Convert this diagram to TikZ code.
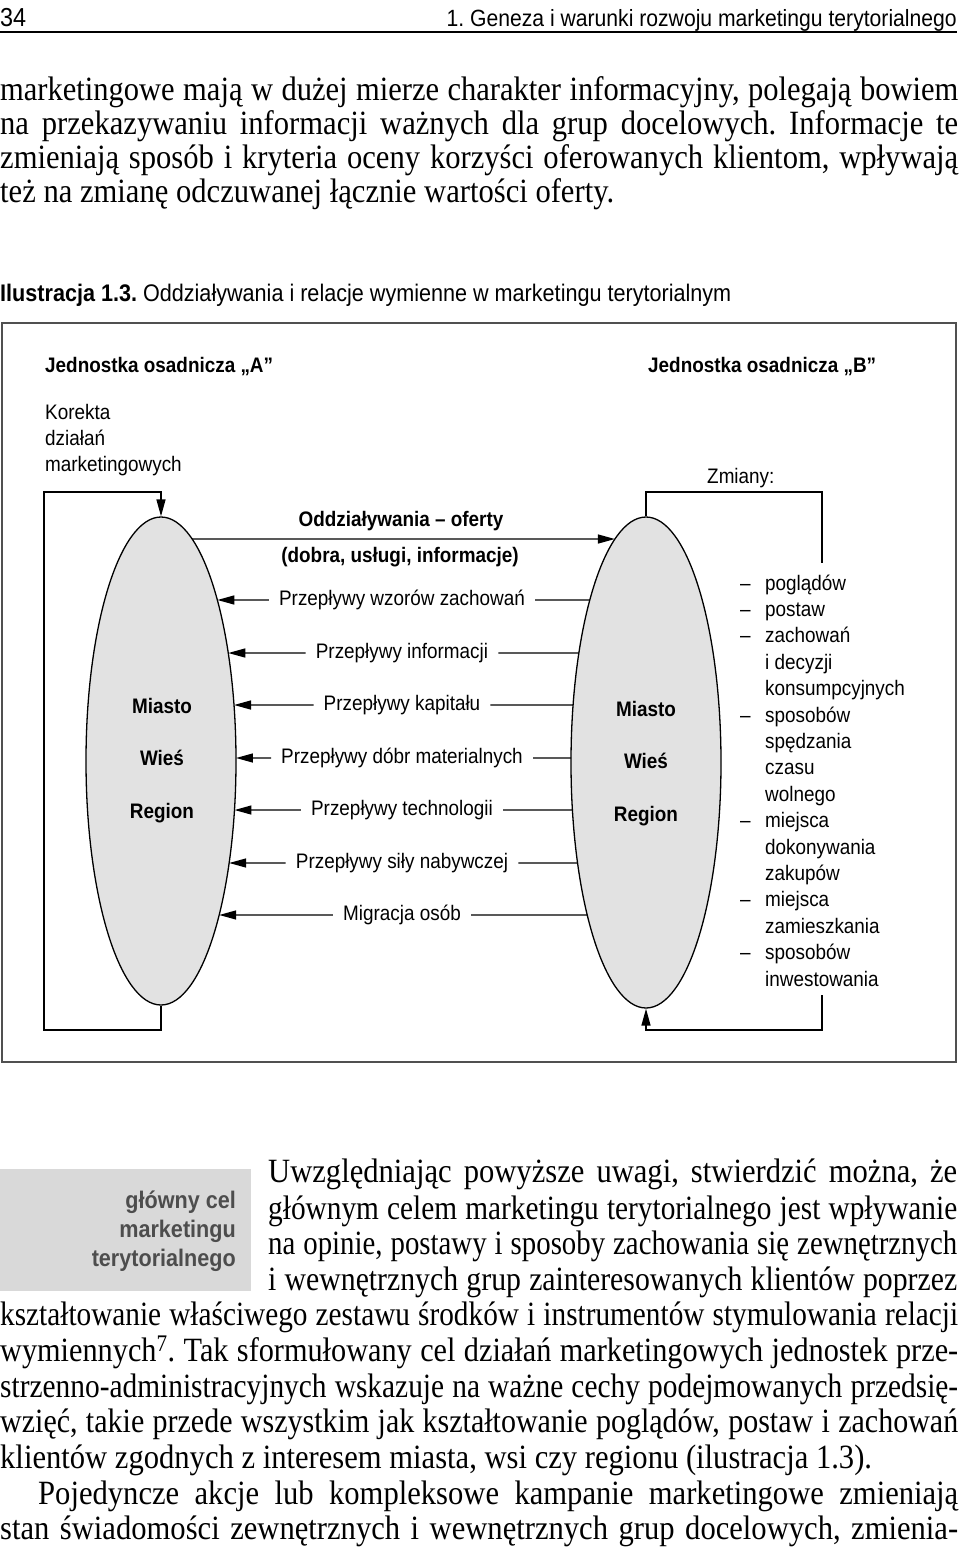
\documentclass[tikz,border=0pt]{standalone}
\usepackage{fontspec}
\setmainfont{Liberation Serif}
\newfontfamily\serifb[FakeStretch=0.9]{Liberation Serif}
\newfontfamily\sansd[FakeStretch=0.9]{Liberation Sans}
\usetikzlibrary{shapes.geometric,arrows.meta,intersections,calc}
\definecolor{ellgray}{HTML}{E2E2E2}
\definecolor{framegray}{HTML}{505050}
\definecolor{sidegray}{HTML}{D9D9D9}
\definecolor{sidetext}{HTML}{4D4D4D}
\frenchspacing
\newsavebox\jlbox
\newlength\jlw
\newcommand{\jl}[2]{\sbox\jlbox{\spaceskip=0.25em plus 0.1em minus 0.1em\relax #2}%
  \setlength\jlw{\wd\jlbox}%
  \ifdim\jlw>#1\relax
    \scalebox{\fpeval{#1/\jlw}}[1]{\usebox\jlbox}%
  \else
    \hbox to #1{\spaceskip=0.25em plus 4em minus 0.05em\relax #2}%
  \fi}
\newcommand{\dsh}{\makebox[25pt][l]{–}}
\newcommand{\nds}{\hspace*{25pt}}
\begin{document}
\begin{tikzpicture}[x=1pt,y=-1pt,
  dtext/.style={font=\sansd\fontsize{21}{26}\selectfont, inner sep=0pt},
  dbold/.style={font=\sansd\bfseries\fontsize{21}{26}\selectfont, inner sep=0pt},
  body/.style={font=\serifb\fontsize{34}{36}\selectfont\frenchspacing, inner sep=0pt, anchor=base west},
  ell/.style={ellipse, draw=black, line width=1.3pt, fill=ellgray, minimum width=150pt, inner sep=0pt},
  conn/.style={line width=1.4pt},
  arr/.style={conn, -{Triangle[length=17pt,width=9pt]}},
  flow/.style={dtext, text height=14pt, text depth=4pt, inner xsep=10pt, inner ysep=0pt}
]
\fill[white] (0,0) rectangle (960,1550);
\useasboundingbox (0,0) rectangle (960,1550);

% header
\node[font=\sansd\fontsize{26}{30}\selectfont, anchor=base west, inner sep=0pt] (pg) at (0,26) {34};
\node[font=\sansd\fontsize{23.5}{28}\selectfont, anchor=base east, inner sep=0pt] (hd) at (957,26) {1. Geneza i warunki rozwoju marketingu terytorialnego};
\draw[line width=2pt] (0,32) -- (957,32);

% first paragraph
\node[body] (p1) at (0,100) {\jl{958pt}{marketingowe mają w dużej mierze charakter informacyjny, polegają bowiem}};
\node[body] (p2) at (0,134) {\jl{958pt}{na przekazywaniu informacji ważnych dla grup docelowych. Informacje te}};
\node[body] (p3) at (0,168) {\jl{958pt}{zmieniają sposób i kryteria oceny korzyści oferowanych klientom, wpływają}};
\node[body] (p4) at (0,202) {też na zmianę odczuwanej łącznie wartości oferty.};

% caption
\node[font=\sansd\fontsize{24}{28}\selectfont, anchor=base west, inner sep=0pt] (cap) at (0,301) {\textbf{Ilustracja 1.3.} Oddziaływania i relacje wymienne w marketingu terytorialnym};

% frame
\draw[line width=2.2pt, draw=framegray] (2,323) rectangle (956,1062);

% headings
\node[dbold, anchor=base west] (ja) at (45,372) {Jednostka osadnicza „A”};
\node[dbold, anchor=base west] (jb) at (648,372) {Jednostka osadnicza „B”};
\node[dtext, anchor=base west] (kor) at (45,419) {\begin{tabular}[t]{@{}l@{}}Korekta\\działań\\marketingowych\end{tabular}};
\node[dtext, anchor=base west] (zm) at (707,483) {Zmiany:};

% ellipses
\node[ell, minimum height=488pt, name path=LE] (L) at (161,761) {};
\node[ell, minimum height=491pt, name path=RE] (R) at (646,762.5) {};
\node[dbold, anchor=base] (lm) at (162,713) {Miasto};
\node[dbold, anchor=base] (lw) at (162,765) {Wieś};
\node[dbold, anchor=base] (lr) at (162,818) {Region};
\node[dbold, anchor=base] (rm) at (646,716) {Miasto};
\node[dbold, anchor=base] (rw) at (646,768) {Wieś};
\node[dbold, anchor=base] (rr) at (646,821) {Region};

% offer arrow
\node[dbold, anchor=base] (of1) at (401,526) {Oddziaływania – oferty};
\node[dbold, anchor=base] (of2) at (400,562) {(dobra, usługi, informacje)};
\coordinate (om) at (402,539);
\path[name path=ol] (om) -- (om -| L.center);
\path[name path=orr] (om) -- (om -| R.center);
\path[name intersections={of=LE and ol, by={oa}}];
\path[name intersections={of=RE and orr, by={ob}}];
\draw[arr] (oa) -- (ob);

% flows
\foreach \i/\yy/\txt in {1/600/Przepływy wzorów zachowań,
                         2/653/Przepływy informacji,
                         3/705/Przepływy kapitału,
                         4/758/Przepływy dóbr materialnych,
                         5/810/Przepływy technologii,
                         6/863/Przepływy siły nabywczej,
                         7/915/Migracja osób} {
  \node[flow] (t\i) at (402,\yy) {\txt};
  \path[name path=hl\i] (t\i.west) -- (t\i.west -| L.center);
  \path[name path=hr\i] (t\i.east) -- (t\i.east -| R.center);
  \path[name intersections={of=LE and hl\i, by={a\i}}];
  \path[name intersections={of=RE and hr\i, by={b\i}}];
  \draw[arr] (t\i.west) -- (a\i);
  \draw[conn] (t\i.east) -- (b\i);
}

% left feedback loop
\coordinate (lb) at (44,1030);
\coordinate (lt) at (44,492);
\draw[arr] (L.south) |- (lb) -- (lt) -| (L.north);

% right loop
\coordinate (rt) at (822,492);
\coordinate (rtg) at (822,563);
\coordinate (rbg) at (822,995);
\coordinate (rb) at (822,1030);
\draw[conn] (R.north) |- (rt) -- (rtg);
\draw[arr] (rbg) -- (rb) -| (R.south);

% list of changes
\node[font=\sansd\fontsize{21}{26.4}\selectfont, inner sep=0pt, anchor=base west] (lst) at (740,590) {\begin{tabular}[t]{@{}l@{}}
\dsh poglądów\\
\dsh postaw\\
\dsh zachowań\\
\nds i decyzji\\
\nds konsumpcyjnych\\
\dsh sposobów\\
\nds spędzania\\
\nds czasu\\
\nds wolnego\\
\dsh miejsca\\
\nds dokonywania\\
\nds zakupów\\
\dsh miejsca\\
\nds zamieszkania\\
\dsh sposobów\\
\nds inwestowania
\end{tabular}};

% side note
\fill[sidegray] (0,1169) rectangle (251,1291);
\node[font=\sansd\bfseries\fontsize{24}{29}\selectfont, text=sidetext, inner sep=0pt, anchor=base east] (side) at (236,1208) {\begin{tabular}[t]{@{}r@{}}główny cel\\marketingu\\terytorialnego\end{tabular}};

% second paragraph
\node[body] (q1) at (268,1182) {\jl{689pt}{Uwzględniając powyższe uwagi, stwierdzić można, że}};
\node[body] (q2) at (268,1219) {\jl{689pt}{głównym celem marketingu terytorialnego jest wpływanie}};
\node[body] (q3) at (268,1254) {\jl{689pt}{na opinie, postawy i sposoby zachowania się zewnętrznych}};
\node[body] (q4) at (268,1290) {\jl{689pt}{i wewnętrznych grup zainteresowanych klientów poprzez}};
\node[body] (q5) at (0,1325) {\jl{958pt}{kształtowanie właściwego zestawu środków i instrumentów stymulowania relacji}};
\node[body] (q6) at (0,1361) {\jl{958pt}{wymiennych\textsuperscript{7}. Tak sformułowany cel działań marketingowych jednostek prze-}};
\node[body] (q7) at (0,1397) {\jl{958pt}{strzenno-administracyjnych wskazuje na ważne cechy podejmowanych przedsię-}};
\node[body] (q8) at (0,1432) {\jl{958pt}{wzięć, takie przede wszystkim jak kształtowanie poglądów, postaw i zachowań}};
\node[body] (q9) at (0,1468) {klientów zgodnych z interesem miasta, wsi czy regionu (ilustracja 1.3).};
\node[body] (q10) at (38,1504) {\jl{920pt}{Pojedyncze akcje lub kompleksowe kampanie marketingowe zmieniają}};
\node[body] (q11) at (0,1539) {\jl{958pt}{stan świadomości zewnętrznych i wewnętrznych grup docelowych, zmienia-}};
\end{tikzpicture}
\end{document}
